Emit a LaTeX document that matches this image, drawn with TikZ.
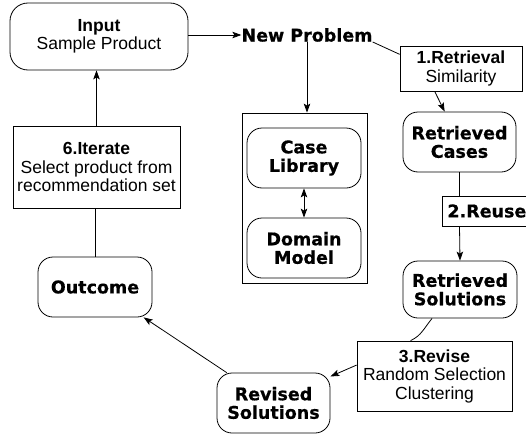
\documentclass[tikz,border=0pt]{standalone}
\usepackage{fontspec}
\setmainfont{Liberation Sans}
\newfontfamily\heavyfont{DejaVu Sans}[BoldFeatures={FakeBold=0.6}]
\usetikzlibrary{arrows.meta,calc}
\begin{document}
\begin{tikzpicture}[x=1pt,y=-1pt,
  every node/.style={font=\fontsize{17.5}{18.5}\selectfont, inner sep=0pt},
  rbox/.style={draw, rounded corners=15pt, align=center, line width=0.8pt},
  sbox/.style={draw, align=center, line width=0.8pt},
  hv/.style={font=\fontsize{17.5}{18.5}\selectfont\heavyfont\bfseries},
  conn/.style={line width=0.8pt},
  tip/.tip={Stealth[length=9pt,width=6.5pt,inset=2pt]},
  arr/.style={conn, -tip},
]
\clip (0,0) rectangle (526,436);
\node[rbox, rounded corners=18pt, minimum width=178pt, minimum height=67pt] (in) at (99,36.5) {{\bfseries Input}\\Sample Product};
\node[hv] (np) at (307,35) {New Problem};
\node[sbox, minimum width=122pt, minimum height=45pt] (r1) at (461,68.5) {{\bfseries 1.Retrieval}\\Similarity};
\node[sbox, minimum width=125pt, minimum height=170pt] (kb) at (304.5,198) {};
\node[rbox, hv, minimum width=114pt, minimum height=60pt] (cl) at (304,158) {Case\\Library};
\node[rbox, hv, minimum width=114pt, minimum height=60pt] (dm) at (304,248) {Domain\\Model};
\node[rbox, hv, minimum width=113pt, minimum height=60pt] (rc) at (459.5,142) {Retrieved\\Cases};
\node[sbox, hv, anchor=west, inner xsep=5pt, minimum height=30pt] (ru) at (442,211) {2.Reuse};
\node[rbox, hv, minimum width=114pt, minimum height=57pt] (rs) at (460,289.5) {Retrieved\\Solutions};
\node[sbox, minimum width=155pt, minimum height=70pt] (rv) at (434.5,376) {{\bfseries 3.Revise}\\Random Selection\\Clustering};
\node[rbox, hv, minimum width=113pt, minimum height=60pt] (rvs) at (273.5,403) {Revised\\Solutions};
\node[rbox, hv, minimum width=114pt, minimum height=60pt] (oc) at (95,287) {Outcome};
\node[sbox, minimum width=167pt, minimum height=82pt] (it) at (96.5,167) {{\bfseries 6.Iterate}\\Select product from\\recommendation set};

\draw[arr] (in.east |- np.west) -- (np.west);
\draw[conn] (np.south east) -- (r1.167);
\draw[arr] (np.south) -- (np.south |- kb.north);
\draw[arr] (r1.221) -- (rc.116);
\draw[conn, tip-tip] (cl.south) -- (dm.north);
\draw[conn] (rc.south) -- (rc.south |- ru.north);
\draw[arr] (rc.south |- ru.south) -- (rs.north);
\draw[conn] (rs.226) to[out=-130,in=25] (rv.124);
\draw[arr] (rv.172) -- (rvs.25);
\draw[arr] (rvs.147) -- (oc.-32);
\draw[conn] (oc.north) -- (oc.north |- it.south);
\draw[arr] (it.north) -- (it.north |- in.south);
\end{tikzpicture}
\end{document}
